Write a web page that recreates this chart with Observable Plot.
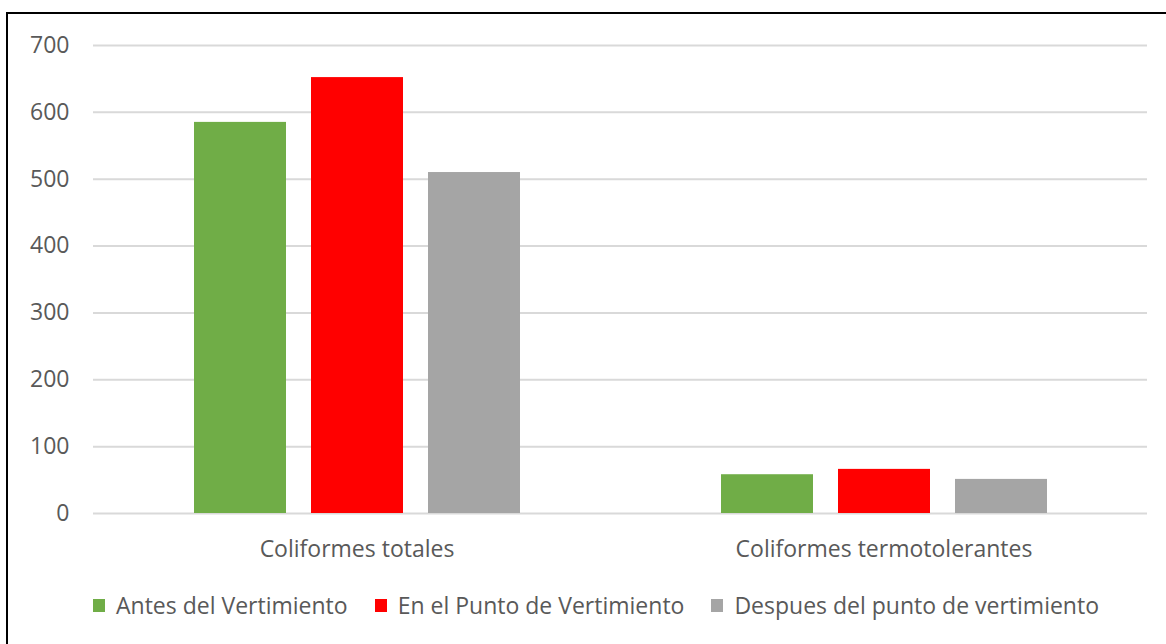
<!DOCTYPE html>
<html><head><meta charset="utf-8">
<script src="https://cdn.jsdelivr.net/npm/d3@7"></script>
<script src="https://cdn.jsdelivr.net/npm/@observablehq/plot@0.6"></script>
<style>
body{margin:0;background:#fff;width:1166px;height:644px;overflow:hidden;position:relative;font-family:"Open Sans",sans-serif}
#frame{position:absolute;left:6px;top:12px;width:1300px;height:800px;border-left:2px solid #000;border-top:2px solid #000;}
#chart{position:absolute;left:0;top:0}
#legend{position:absolute;top:590px;left:93px;display:flex;align-items:center;font-size:23px;line-height:31px;color:#595959;white-space:nowrap}
.item{display:flex;align-items:center;margin-right:27px}
.sw{width:12px;height:13px;margin-right:11px}
</style></head>
<body>
<div id="frame"></div>
<div id="chart"></div>
<div id="legend"></div>
<script>
const categories = ["Coliformes totales", "Coliformes termotolerantes"];
const series = ["Antes del Vertimiento", "En el Punto de Vertimiento", "Despues del punto de vertimiento"];
const totales = [585, 652, 510];
const termotolerantes = [58, 66, 51];
const colors = ["#70AD47", "#FF0000", "#A5A5A5"];
const yTicks = [0, 100, 200, 300, 400, 500, 600, 700];

const data = [];
series.forEach((s, i) => {
  data.push({cat: categories[0], series: s, value: totales[i]});
  data.push({cat: categories[1], series: s, value: termotolerantes[i]});
});

const chart = Plot.plot({
  width: 1166, height: 580,
  marginLeft: 92, marginRight: 19, marginTop: 45, marginBottom: 67,
  style: {fontFamily: "Open Sans", fontSize: "23px", color: "#595959", background: "transparent"},
  fx: {domain: categories, padding: 0, label: null},
  x: {domain: series, paddingInner: 0.214, paddingOuter: 0.859, axis: null},
  y: {domain: [0, 700], label: null},
  color: {domain: series, range: colors},
  marks: [
    Plot.ruleY(yTicks, {stroke: "#d9d9d9", strokeWidth: 2}),
    Plot.barY(data, {fx: "cat", x: "series", y: "value", fill: "series"}),
    Plot.axisY({ticks: yTicks, tickSize: 0, tickPadding: 24, label: null}),
    Plot.axisFx({anchor: "bottom", tickSize: 0, tickPadding: 27, label: null})
  ]
});
document.getElementById("chart").appendChild(chart);

const legend = document.getElementById("legend");
series.forEach((s, i) => {
  const it = document.createElement("div");
  it.className = "item";
  const sw = document.createElement("div");
  sw.className = "sw";
  sw.style.background = colors[i];
  const t = document.createElement("span");
  t.textContent = s;
  it.appendChild(sw); it.appendChild(t);
  legend.appendChild(it);
});
</script>
</body></html>
